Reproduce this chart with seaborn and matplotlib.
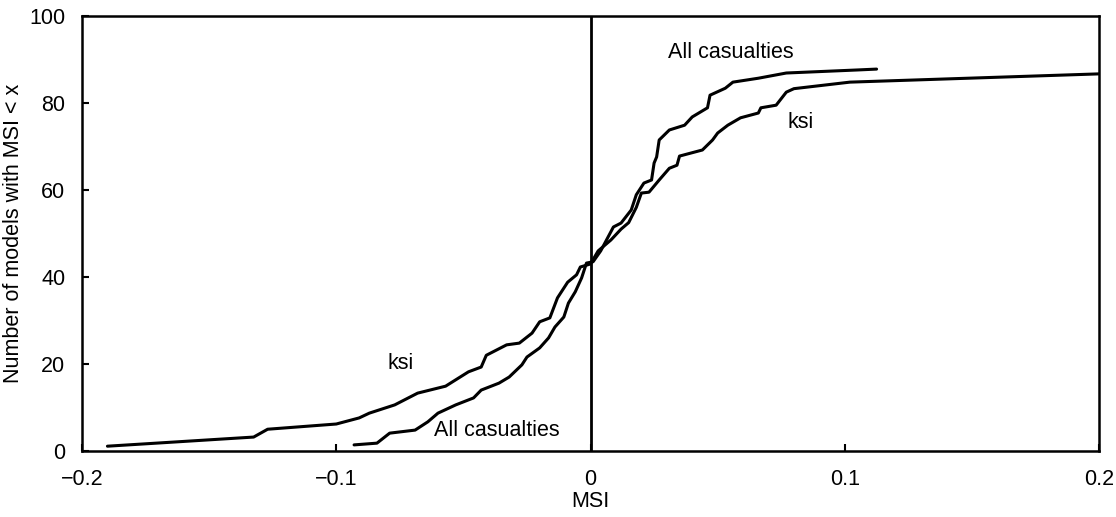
import numpy as np
import pandas as pd
import matplotlib
matplotlib.use("Agg")
import matplotlib.pyplot as plt
import seaborn as sns

# Cumulative count of models with MSI below x, killed/seriously injured (ksi)
ksi_msi = [-0.190, -0.1325, -0.127, -0.100, -0.091, -0.087, -0.077, -0.068, -0.057,
           -0.048, -0.043, -0.041, -0.033, -0.028, -0.023, -0.020, -0.016, -0.013,
           -0.009, -0.0055, -0.004, 0.000, 0.003, 0.008, 0.012, 0.015, 0.018, 0.020,
           0.023, 0.027, 0.031, 0.034, 0.035, 0.044, 0.048, 0.050, 0.054, 0.059,
           0.066, 0.067, 0.073, 0.077, 0.080, 0.102, 0.200]
ksi_count = [1.1, 3.2, 5.0, 6.2, 7.6, 8.7, 10.6, 13.3, 14.9,
             18.2, 19.3, 22.0, 24.4, 24.8, 27.1, 29.7, 30.6, 35.2,
             38.8, 40.5, 42.3, 43.0, 46.0, 48.5, 51.0, 52.5, 56.0, 59.3,
             59.5, 62.3, 65.0, 65.7, 67.8, 69.2, 71.5, 73.1, 74.9, 76.6,
             77.7, 78.9, 79.5, 82.5, 83.3, 84.8, 86.7]

# Same for all casualties
all_msi = [-0.093, -0.084, -0.079, -0.069, -0.064, -0.060, -0.053, -0.046, -0.043,
           -0.036, -0.032, -0.027, -0.025, -0.020, -0.0165, -0.014, -0.0105, -0.0087,
           -0.006, -0.0035, -0.0016, 0.001, 0.004, 0.009, 0.012, 0.016, 0.018, 0.021,
           0.024, 0.025, 0.026, 0.027, 0.031, 0.037, 0.040, 0.046, 0.047, 0.053,
           0.056, 0.066, 0.077, 0.105, 0.1125]
all_count = [1.4, 1.8, 4.1, 4.8, 6.7, 8.7, 10.6, 12.2, 14.0,
             15.6, 17.0, 19.8, 21.6, 23.7, 26.0, 28.5, 30.8, 34.0,
             36.6, 39.8, 43.2, 43.5, 46.0, 51.5, 52.4, 55.4, 58.9, 61.6,
             62.3, 66.2, 67.6, 71.5, 73.8, 74.9, 76.8, 78.9, 81.8, 83.4,
             84.8, 85.7, 86.9, 87.6, 87.8]

x_ticks = [-0.2, -0.1, 0, 0.1, 0.2]
x_tick_labels = ["\u22120.2", "\u22120.1", "0", "0.1", "0.2"]
y_ticks = [0, 20, 40, 60, 80, 100]

df = pd.concat([
    pd.DataFrame({"MSI": ksi_msi, "count": ksi_count, "series": "ksi"}),
    pd.DataFrame({"MSI": all_msi, "count": all_count, "series": "All casualties"}),
], ignore_index=True)

sns.set_theme(style="ticks")
plt.rcParams["font.family"] = ["Liberation Sans", "DejaVu Sans"]
plt.rcParams["text.color"] = "black"
plt.rcParams["axes.labelcolor"] = "black"

FS = 15.5

fig = plt.figure(figsize=(11.16, 5.17), dpi=100)
ax = fig.add_axes([0.0735, 0.1277, 0.9113, 0.8413])

sns.lineplot(data=df, x="MSI", y="count", hue="series", units="series",
             estimator=None, sort=False, palette={"ksi": "black", "All casualties": "black"},
             linewidth=2.2, legend=False, ax=ax)

ax.axvline(0, color="black", linewidth=2.0, zorder=1)

ax.set_xlim(-0.2, 0.2)
ax.set_ylim(0, 100)
ax.set_xticks(x_ticks)
ax.set_xticklabels(x_tick_labels)
ax.set_yticks(y_ticks)

for side in ["left", "right", "top", "bottom"]:
    ax.spines[side].set_visible(True)
    ax.spines[side].set_linewidth(1.8)
    ax.spines[side].set_color("black")

ax.tick_params(axis="both", direction="in", length=5, width=1.5, colors="black",
               labelcolor="black", labelsize=FS)
ax.tick_params(axis="x", pad=13)
ax.tick_params(axis="y", pad=12)

ax.set_xlabel("MSI", fontsize=FS, labelpad=1)
ax.set_ylabel("Number of models with MSI < x", fontsize=FS, labelpad=4)

ax.text(0.055, 91.5, "All casualties", fontsize=FS, ha="center", va="center")
ax.text(0.0826, 75.6, "ksi", fontsize=FS, ha="center", va="center")
ax.text(-0.0747, 20.2, "ksi", fontsize=FS, ha="center", va="center")
ax.text(-0.037, 4.8, "All casualties", fontsize=FS, ha="center", va="center")

fig.savefig("out.png", dpi=100)
